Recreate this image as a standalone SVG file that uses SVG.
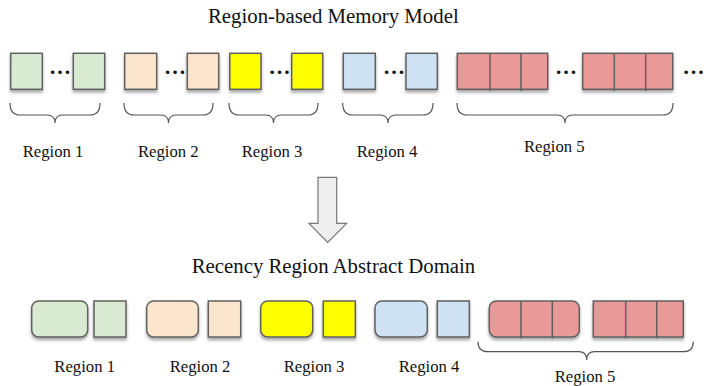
<svg xmlns="http://www.w3.org/2000/svg" width="706" height="386" viewBox="0 0 706 386">
  <defs>
    <filter id="shadow" x="-20%" y="-20%" width="140%" height="160%">
      <feDropShadow dx="0" dy="2.5" stdDeviation="1.6" flood-color="#000" flood-opacity="0.35"/>
    </filter>
  </defs>
  <style>
    text { font-family: "Liberation Serif", "Times New Roman", serif; fill: #111; }
    .title { font-size: 20.8px; }
    .label { font-size: 16.7px; text-anchor: middle; }
    .dots { font-size: 22px; text-anchor: middle; font-weight: bold; }
    .cell { stroke: #606060; stroke-width: 1.5; filter: url(#shadow); }
    .div { stroke: #606060; stroke-width: 1.5; fill: none; }
    .brace { fill: none; stroke: #555; stroke-width: 1.2; }
    .green { fill: #d9ead3; }
    .peach { fill: #fce5cd; }
    .yellow { fill: #ffff00; }
    .blue { fill: #cfe2f3; }
    .pink { fill: #ea9999; }
  </style>

  <rect width="706" height="386" fill="#ffffff"/>

  <!-- Concrete memory model -->
  <text id="title-top" class="title" x="208" y="23">Region-based Memory Model</text>

  <g id="top-region1">
    <rect class="cell green" x="10.7" y="53.3" width="31.6" height="36"/>
    <text class="dots" x="60" y="74">…</text>
    <rect class="cell green" x="73.3" y="53.3" width="31.4" height="36"/>
  </g>
  <g id="top-region2">
    <rect class="cell peach" x="124.7" y="53.3" width="32" height="36"/>
    <text class="dots" x="175" y="74">…</text>
    <rect class="cell peach" x="187.3" y="53.3" width="31.4" height="36"/>
  </g>
  <g id="top-region3">
    <rect class="cell yellow" x="229.8" y="53.3" width="31.2" height="36"/>
    <text class="dots" x="279.5" y="74">…</text>
    <rect class="cell yellow" x="291.7" y="53.3" width="31" height="36"/>
  </g>
  <g id="top-region4">
    <rect class="cell blue" x="343.3" y="53.3" width="32" height="36"/>
    <text class="dots" x="394" y="74">…</text>
    <rect class="cell blue" x="406" y="53.3" width="31.3" height="36"/>
  </g>
  <g id="top-region5">
    <rect class="cell pink" x="457.3" y="53.3" width="90.4" height="36"/>
    <line class="div" x1="490" y1="53.3" x2="490" y2="91"/>
    <line class="div" x1="521" y1="53.3" x2="521" y2="91"/>
    <text class="dots" x="566" y="74">…</text>
    <rect class="cell pink" x="582.7" y="53.3" width="90" height="36"/>
    <line class="div" x1="614.3" y1="53.3" x2="614.3" y2="91"/>
    <line class="div" x1="645.7" y1="53.3" x2="645.7" y2="91"/>
    <text class="dots" x="693.5" y="74">…</text>
  </g>

  <!-- Braces and labels of the concrete model -->
  <g id="top-braces">
    <path class="brace" d="M10,103 Q10,115 20,115 L47,115 Q55,115 55,123 Q55,115 63,115 L90,115 Q100,115 100,103"/>
    <path class="brace" d="M124,103 Q124,115 134,115 L160.5,115 Q168.5,115 168.5,123 Q168.5,115 176.5,115 L203,115 Q213,115 213,103"/>
    <path class="brace" d="M229,103 Q229,115 239,115 L265.5,115 Q273.5,115 273.5,123 Q273.5,115 281.5,115 L308,115 Q318,115 318,103"/>
    <path class="brace" d="M342.7,103 Q342.7,115 352.7,115 L380,115 Q388,115 388,123 Q388,115 396,115 L423,115 Q433,115 433,103"/>
    <path class="brace" d="M457,103 Q457,115 467,115 L557,115 Q565,115 565,123 Q565,115 573,115 L663,115 Q673,115 673,103"/>
  </g>
  <text class="label" x="53" y="156.5">Region 1</text>
  <text class="label" x="168.3" y="156.5">Region 2</text>
  <text class="label" x="272" y="156.5">Region 3</text>
  <text class="label" x="387" y="156.5">Region 4</text>
  <text class="label" x="554.3" y="151.7">Region 5</text>

  <!-- Abstraction arrow -->
  <g id="connectors">
    <path d="M318,177.3 L336.7,177.3 L336.7,223.3 L346.7,223.3 L327.7,242.3 L309,223.3 L318,223.3 Z" fill="#eeeeee" stroke="#777" stroke-width="1.2" stroke-linejoin="miter"/>
  </g>

  <!-- Abstract domain -->
  <text id="title-bottom" class="title" x="191.7" y="272.5">Recency Region Abstract Domain</text>

  <g id="bottom-region1">
    <rect class="cell green" x="31.7" y="301" width="56" height="36" rx="7"/>
    <rect class="cell green" x="94" y="301" width="32" height="36"/>
  </g>
  <g id="bottom-region2">
    <rect class="cell peach" x="146.7" y="301" width="51.6" height="36" rx="7"/>
    <rect class="cell peach" x="208.3" y="301" width="32.4" height="36"/>
  </g>
  <g id="bottom-region3">
    <rect class="cell yellow" x="260.7" y="301" width="52" height="36" rx="7"/>
    <rect class="cell yellow" x="323.3" y="301" width="32" height="36"/>
  </g>
  <g id="bottom-region4">
    <rect class="cell blue" x="375" y="301" width="52.3" height="36" rx="7"/>
    <rect class="cell blue" x="437.3" y="301" width="32" height="36"/>
  </g>
  <g id="bottom-region5">
    <rect class="cell pink" x="489.3" y="301" width="90" height="36" rx="7"/>
    <line class="div" x1="521" y1="301" x2="521" y2="338.5"/>
    <line class="div" x1="552.3" y1="301" x2="552.3" y2="338.5"/>
    <rect class="cell pink" x="593.3" y="301" width="90" height="36"/>
    <line class="div" x1="625.7" y1="301" x2="625.7" y2="338.5"/>
    <line class="div" x1="656.7" y1="301" x2="656.7" y2="338.5"/>
  </g>

  <path class="brace" d="M478,341.7 Q478,351.7 488,351.7 L578.7,351.7 Q586.7,351.7 586.7,360 Q586.7,351.7 594.7,351.7 L683.3,351.7 Q693.3,351.7 693.3,341.7"/>

  <text class="label" x="84.7" y="371.7">Region 1</text>
  <text class="label" x="200" y="371.7">Region 2</text>
  <text class="label" x="314" y="371.7">Region 3</text>
  <text class="label" x="429" y="371.7">Region 4</text>
  <text class="label" x="585" y="381.7">Region 5</text>
</svg>
